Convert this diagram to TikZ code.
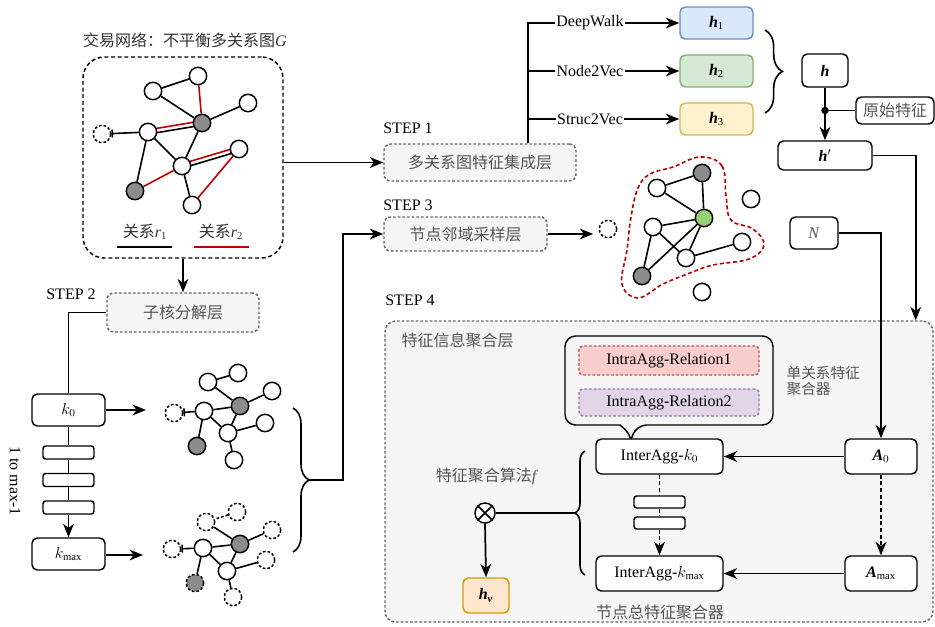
\documentclass[tikz,border=0pt,12pt]{standalone}
\usepackage{fontspec}
\setmainfont{Liberation Serif}
\newfontfamily\cjk{Noto Sans CJK SC}
\usetikzlibrary{arrows.meta,calc,decorations.pathreplacing,backgrounds}
\newcommand\zh[1]{{\cjk #1}}
\newcommand\bh{\textbf{\textit{h}}}
\definecolor{boxfill}{HTML}{F5F5F5}
\definecolor{bordgray}{HTML}{666666}
\definecolor{txtgray}{HTML}{555555}
\definecolor{nodegray}{HTML}{8C8C8C}
\definecolor{relred}{HTML}{C00000}
\definecolor{blobred}{HTML}{B20000}
\definecolor{greenfill}{HTML}{97D077}
\definecolor{hAfill}{HTML}{DAE8FC}\definecolor{hAdraw}{HTML}{6C8EBF}
\definecolor{hBfill}{HTML}{D5E8D4}\definecolor{hBdraw}{HTML}{82B366}
\definecolor{hCfill}{HTML}{FFF2CC}\definecolor{hCdraw}{HTML}{D6B656}
\definecolor{hvfill}{HTML}{FFE6CC}\definecolor{hvdraw}{HTML}{D79B00}
\definecolor{iaAfill}{HTML}{F8CECC}\definecolor{iaAdraw}{HTML}{B85450}
\definecolor{iaBfill}{HTML}{E1D5E7}\definecolor{iaBdraw}{HTML}{9673A6}
\tikzset{
  conn/.style={line width=1.3pt, draw=black},
  arr/.style={conn, -{Stealth[length=10pt,width=8pt,inset=3pt]}},
  dasharr/.style={arr, dash pattern=on 3pt off 2pt},
  dashconn/.style={conn, dash pattern=on 3pt off 2pt},
  wbox/.style={draw, line width=1.1pt, rounded corners=4pt, fill=white, inner sep=0pt},
  stepbox/.style={draw=bordgray, dash pattern=on 2pt off 1.5pt, line width=1.1pt, rounded corners=5pt, fill=boxfill, text=txtgray, inner sep=0pt},
  gn/.style={circle, draw, line width=1.1pt, fill=white, minimum size=13pt, inner sep=0pt},
  gg/.style={gn, fill=nodegray},
  gd/.style={gn, dash pattern=on 2pt off 1.5pt},
  ge/.style={line width=1.2pt, draw=black},
  re/.style={line width=1.2pt, draw=relred},
  lbl/.style={inner sep=1pt},
  curly/.style={decorate, decoration={brace, amplitude=#1}, line width=1.2pt},
  tick/.style={ge, -{Bar[width=6pt,line width=1.2pt]}},
}
\begin{document}
\begin{tikzpicture}[x=0.75pt,y=-0.75pt]
\useasboundingbox (0,0) rectangle (935,626);

% ---------- STEP 4 container ----------
\node[stepbox, rounded corners=8pt, minimum width=411pt, minimum height=225.75pt] (S4) at (659,471.5) {};

% ---------- Graph G ----------
\node[text=black!80] (title) at (185,40) {\zh{交易网络：不平衡多关系图}\textit{G}};
\node[draw, dash pattern=on 3pt off 2pt, line width=1.1pt, rounded corners=16pt, minimum width=150pt, minimum height=150.75pt] (G) at (183,157.5) {};
\node[gn] (a1) at (198,76) {};
\node[gn] (a2) at (153,91) {};
\node[gn] (a3) at (248,103) {};
\node[gg] (a4) at (202,123) {};
\node[gn] (a5) at (148,132) {};
\node[gd] (a6) at (102,134) {};
\node[gn] (a7) at (239,149) {};
\node[gn] (a8) at (182,166) {};
\node[gg] (a9) at (135,191) {};
\node[gn] (a10) at (192,205) {};
\begin{scope}[on background layer]
\draw[ge] (a1) -- (a2);
\draw[ge] (a2) -- (a4);
\draw[ge] (a4) -- (a3);
\draw[ge] (a5) -- (a8);
\draw[ge] (a5) -- (a9);
\draw[ge] (a4) -- (a8);
\draw[ge] (a8) -- (a10);
\draw[re] (a1) -- (a4);
\draw[re] (a8) -- (a9);
\draw[re] (a10) -- (a7);
\draw[ge] ($(a5)!1.6pt!-90:(a4)$) -- ($(a4)!1.6pt!90:(a5)$);
\draw[re] ($(a5)!1.6pt!90:(a4)$) -- ($(a4)!1.6pt!-90:(a5)$);
\draw[ge] ($(a8)!1.6pt!-90:(a7)$) -- ($(a7)!1.6pt!90:(a8)$);
\draw[re] ($(a8)!1.6pt!90:(a7)$) -- ($(a7)!1.6pt!-90:(a8)$);
\end{scope}
\draw[tick] (a5) -- (a6);
\node[text=black!80] (lr1) at (145,232) {\zh{关系}\textit{r}\textsubscript{1}};
\node[text=black!80] (lr2) at (221,232) {\zh{关系}\textit{r}\textsubscript{2}};
\draw[ge] (117,247) -- (172,247);
\draw[re] (194,247) -- (249,247);

% ---------- STEP 1 ----------
\node (st1) at (408,128) {STEP 1};
\node[stepbox, minimum width=144pt, minimum height=27.75pt] (S1) at (480,162.5) {\zh{多关系图特征集成层}};
\draw[arr] (G.east |- S1.west) -- (S1.west);
\coordinate (t) at (528,23);
\node[lbl] (DW) at (590,23) {DeepWalk};
\node[lbl] (NV) at (590,71) {Node2Vec};
\node[lbl] (SV) at (590,119) {Struc2Vec};
\draw[conn] (S1.north -| t) -- (t) -- (DW.west);
\draw[conn] (S1.north -| t) |- (NV.west);
\draw[conn] (S1.north -| t) |- (SV.west);
\node[wbox, fill=hAfill, draw=hAdraw, minimum width=54.75pt, minimum height=24pt] (h1) at (716.5,23) {\bh\textsubscript{1}};
\node[wbox, fill=hBfill, draw=hBdraw, minimum width=54.75pt, minimum height=24pt] (h2) at (716.5,71) {\bh\textsubscript{2}};
\node[wbox, fill=hCfill, draw=hCdraw, minimum width=54.75pt, minimum height=24pt] (h3) at (716.5,119) {\bh\textsubscript{3}};
\draw[arr] (DW.east) -- (h1.west);
\draw[arr] (NV.east) -- (h2.west);
\draw[arr] (SV.east) -- (h3.west);
\coordinate (b1s) at (765,30);
\coordinate (b1e) at (765,113);
\draw[curly=13pt] (b1s) -- (b1e);
\node[wbox, minimum width=34.5pt, minimum height=24.75pt] (h) at (825,70.5) {\bh};
\node[wbox, minimum width=58.5pt, minimum height=20.25pt, text=txtgray] (orig) at (895,110.5) {\zh{原始特征}};
\node[wbox, minimum width=70.5pt, minimum height=21.75pt] (hp) at (825,155.5) {\bh$'$};
\coordinate (dot) at (h.south |- orig.west);
\draw[arr] (h.south) -- (hp.north);
\draw[conn] (dot) -- (orig.west);
\fill (dot) circle (2.8pt);
\draw[arr] (hp.east) -| ($(S4.north east)+(-18,0)$);

% ---------- STEP 3 ----------
\node (st3) at (408,205) {STEP 3};
\node[stepbox, minimum width=122.25pt, minimum height=25.5pt] (S3) at (465.5,234) {\zh{节点邻域采样层}};
\node[gg] (c1) at (702,173) {};
\node[gn] (c2) at (657,188) {};
\node[gn] (c3) at (751,199) {};
\node[gn, fill=greenfill] (c4) at (704,218) {};
\node[gn] (c5) at (653,227) {};
\node[gd] (c6) at (608,229) {};
\node[gn] (c7) at (742,242) {};
\node[gn] (c8) at (686,258) {};
\node[gg] (c9) at (642,276) {};
\node[gn] (c10) at (702,292) {};
\begin{scope}[on background layer]
\draw[blobred, line width=1.2pt, dash pattern=on 3pt off 2pt] plot[smooth cycle, tension=0.65] coordinates {
 (700,157) (722,166) (726,196) (731,220) (753,229) (764,245) (749,259) (713,265)
 (690,273) (663,284) (638,298) (622,284) (627,250) (631,217) (638,188) (650,174) (673,167)};
\draw[ge] (c1) -- (c2);
\draw[ge] (c2) -- (c4);
\draw[ge] (c1) -- (c4);
\draw[ge] (c5) -- (c4);
\draw[ge] (c5) -- (c8);
\draw[ge] (c5) -- (c9);
\draw[ge] (c9) -- (c4);
\draw[ge] (c4) -- (c8);
\draw[ge] (c8) -- (c7);
\end{scope}
\draw[arr, shorten >=4pt] (S3.east) -- (S3.east -| c6.west);
\node[wbox, minimum width=36pt, minimum height=24pt, text=txtgray] (N) at (814,233) {\textit{N}};

% ---------- STEP 2 ----------
\node (st2) at (71,294) {STEP 2};
\node[stepbox, minimum width=114pt, minimum height=29.25pt] (S2) at (183,312.5) {\zh{子核分解层}};
\draw[arr] (G.south) -- (S2.north);
\node[wbox, minimum width=54.75pt, minimum height=24pt] (k0) at (68.5,410) {$k_0$};
\node[wbox, minimum width=54.75pt, minimum height=24pt] (kmax) at (68.5,554) {$k_{\mathrm{max}}$};
\node[wbox, rounded corners=2pt, minimum width=38.25pt, minimum height=9.75pt] (r1) at (68.5,452.5) {};
\node[wbox, rounded corners=2pt, minimum width=38.25pt, minimum height=9.75pt] (r2) at (68.5,480) {};
\node[wbox, rounded corners=2pt, minimum width=38.25pt, minimum height=9.75pt] (r3) at (68.5,507.5) {};
\draw[conn] (S2.west) -| (k0.north);
\draw[conn] (k0.south) -- (r1.north);
\draw[conn] (r1.south) -- (r2.north);
\draw[conn] (r2.south) -- (r3.north);
\draw[arr] (r3.south) -- (kmax.north);
\node[rotate=-90] (loop) at (15,481) {1 to max-1};
\coordinate (k0e) at (146,410);
\coordinate (kme) at (143,555);
\draw[arr] (k0.east) -- (k0e);
\draw[arr] (kmax.east |- kme) -- (kme);

% subgraph k0
\node[gn] (p1) at (238,373) {};
\node[gn] (p2) at (208,382) {};
\node[gn] (p3) at (272,391) {};
\node[gg] (p4) at (240,406) {};
\node[gd] (p5) at (174,413) {};
\node[gn] (p6) at (204,411) {};
\node[gn] (p7) at (265,423) {};
\node[gn] (p8) at (228,433) {};
\node[gg] (p9) at (197,446) {};
\node[gn] (p10) at (234,460) {};
\begin{scope}[on background layer]
\draw[ge] (p1) -- (p2);
\draw[ge] (p2) -- (p4);
\draw[ge] (p4) -- (p3);
\draw[ge] (p6) -- (p4);
\draw[ge] (p6) -- (p8);
\draw[ge] (p6) -- (p9);
\draw[ge] (p4) -- (p8);
\draw[ge] (p8) -- (p7);
\draw[ge] (p8) -- (p10);
\end{scope}
\draw[tick] (p6) -- (p5);

% subgraph kmax
\node[gd] (q1) at (237,512) {};
\node[gd] (q2) at (206,522) {};
\node[gd] (q3) at (272,530) {};
\node[gg] (q4) at (240,544) {};
\node[gd] (q5) at (172,549) {};
\node[gn] (q6) at (203,548) {};
\node[gd] (q7) at (266,560) {};
\node[gn] (q8) at (227,571) {};
\node[gg, dash pattern=on 2pt off 1.5pt] (q9) at (195,583) {};
\node[gd] (q10) at (233,597) {};
\begin{scope}[on background layer]
\draw[ge, dash pattern=on 2pt off 1.5pt] (q1) -- (q2);
\draw[ge] (q2) -- (q4);
\draw[ge] (q4) -- (q3);
\draw[ge] (q6) -- (q4);
\draw[ge] (q6) -- (q8);
\draw[ge] (q6) -- (q9);
\draw[ge] (q4) -- (q8);
\draw[ge] (q8) -- (q7);
\draw[ge] (q8) -- (q10);
\end{scope}
\draw[tick] (q6) -- (q5);

\coordinate (b2s) at (293,408);
\coordinate (b2e) at (293,552);
\coordinate (b2tip) at (309,480);
\draw[curly=12pt] (b2s) -- (b2e);
\draw[arr] (b2tip) -- ++(34,0) |- (S3.west);

% ---------- STEP 4 ----------
\node (st4) at (410,300) {STEP 4};
\node[anchor=west, text=txtgray] (agg) at (396,340) {\zh{特征信息聚合层}};
\draw[line width=1.1pt, fill=boxfill] (565,380) [rounded corners=8pt] |- (773,336) |- (636,425) [sharp corners] -- (631,440) .. controls (628,432) .. (620,425) [rounded corners=8pt] -| (565,380) -- cycle;
\node[stepbox, fill=iaAfill, draw=iaAdraw, text=black, rounded corners=3pt, minimum width=135pt, minimum height=21.75pt] (ia1) at (669,360.5) {IntraAgg-Relation1};
\node[stepbox, fill=iaBfill, draw=iaBdraw, text=black, rounded corners=3pt, minimum width=135pt, minimum height=20.25pt] (ia2) at (669,402.5) {IntraAgg-Relation2};
\node[anchor=west, align=left, text=txtgray, font=\fontsize{11}{12.5}\selectfont] (single) at (781,381) {\zh{单关系特征}\\\zh{聚合器}};
\node[wbox, minimum width=95.25pt, minimum height=26.25pt] (Ik0) at (659.5,456.5) {InterAgg-$k_0$};
\node[wbox, minimum width=95.25pt, minimum height=26.25pt] (Ikm) at (659.5,573.5) {InterAgg-$k_{\mathrm{max}}$};
\node[wbox, minimum width=54pt, minimum height=26.25pt] (A0) at (881,456.5) {\textbf{\textit{A}}$_0$};
\node[wbox, minimum width=54pt, minimum height=26.25pt] (Am) at (881,573.5) {\textbf{\textit{A}}$_{\mathrm{max}}$};
\node[wbox, rounded corners=2pt, minimum width=38.25pt, minimum height=9pt] (s1) at (659.5,502) {};
\node[wbox, rounded corners=2pt, minimum width=38.25pt, minimum height=9pt] (s2) at (659.5,523) {};
\draw[arr] (A0.west) -- (Ik0.east);
\draw[arr] (Am.west) -- (Ikm.east);
\draw[dasharr] (A0.south) -- (Am.north);
\draw[dashconn] (Ik0.south) -- (s1.north);
\draw[dashconn] (s1.south) -- (s2.north);
\draw[dasharr] (s2.south) -- (Ikm.north);
\draw[arr] (N.east) -| (A0.north);
\coordinate (b3s) at (585,575);
\coordinate (b3e) at (585,451);
\coordinate (b3tip) at (575,513);
\draw[curly=7.5pt] (b3s) -- (b3e);
\node[circle, draw, line width=1.1pt, fill=white, minimum size=15pt, inner sep=0pt] (ot) at (485,513) {};
\draw[line width=1.1pt] (ot.north west) -- (ot.south east);
\draw[line width=1.1pt] (ot.north east) -- (ot.south west);
\draw[conn] (b3tip) -- (ot.east);
\node[text=txtgray] (falg) at (487,476) {\zh{特征聚合算法}\textit{f}};
\node[wbox, fill=hvfill, draw=hvdraw, minimum width=34.5pt, minimum height=26.25pt] (hv) at (486,595.5) {\bh\textsubscript{\textbf{\textit{v}}}};
\draw[arr] (ot.south) -- (hv.north);
\node[text=txtgray] (total) at (660,612) {\zh{节点总特征聚合器}};
\end{tikzpicture}
\end{document}
